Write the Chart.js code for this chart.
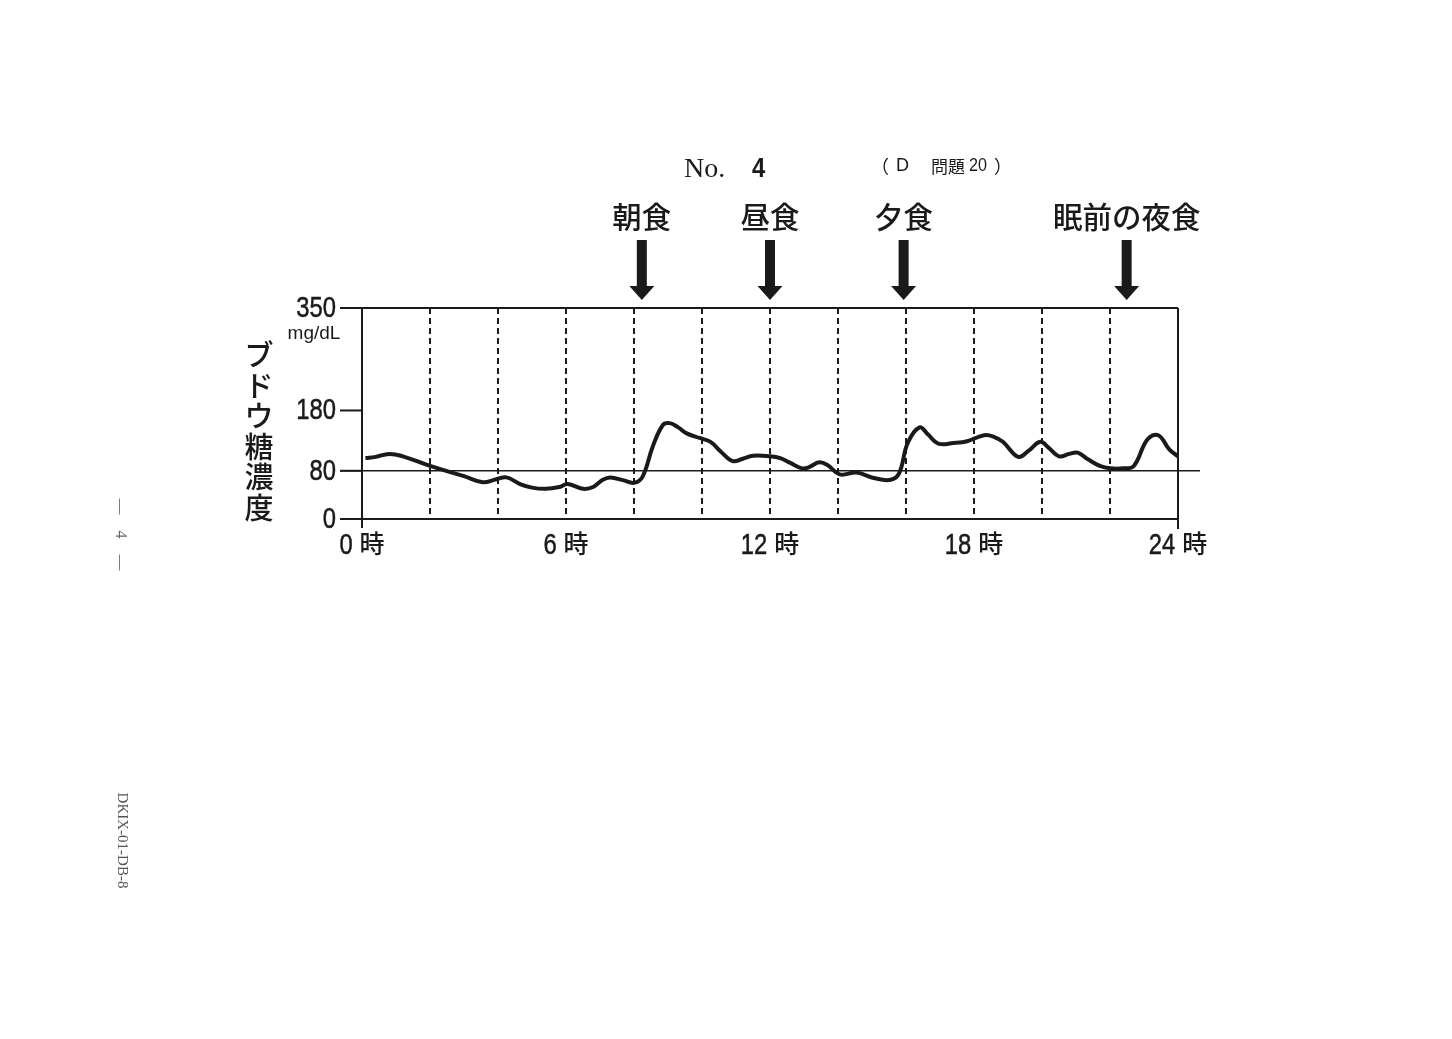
<!DOCTYPE html>
<html>
<head>
<meta charset="utf-8">
<script src="https://cdn.jsdelivr.net/npm/chart.js@4.4.1/dist/chart.umd.min.js"></script>
<style>
  html, body { margin: 0; padding: 0; background: #fff; }
  body { width: 1452px; height: 1039px; position: relative; overflow: hidden; }
  #c { position: absolute; left: 0; top: 0; }
  .abs { position: absolute; white-space: nowrap; color: #1a1a1a; }
</style>
</head>
<body>
<canvas id="c" width="1452" height="1039"></canvas>
<div class="abs" style="left:684px;top:152px;font-family:'Liberation Serif','DejaVu Serif',serif;font-size:28px;">No.</div>
<div class="abs" style="left:752px;top:152px;font-family:'Liberation Sans',sans-serif;font-size:28px;font-weight:bold;transform:scaleX(0.85);transform-origin:left;">4</div>
<div class="abs" style="left:871px;top:152px;font-family:'Noto Sans CJK JP',sans-serif;font-size:18px;">（</div>
<div class="abs" style="left:896px;top:155px;font-family:'Liberation Sans',sans-serif;font-size:18px;">D</div>
<div class="abs" style="left:931px;top:153px;font-family:'Noto Sans CJK JP',sans-serif;font-size:17px;">問題</div>
<div class="abs" style="left:969px;top:154px;font-family:'Liberation Sans',sans-serif;font-size:19px;transform:scaleX(0.85);transform-origin:left;">20</div>
<div class="abs" style="left:994px;top:152px;font-family:'Noto Sans CJK JP',sans-serif;font-size:18px;">）</div>
<div class="abs" style="left:100px;top:508px;width:40px;text-align:center;transform:rotate(90deg);font-family:'Liberation Serif',serif;font-size:16px;color:#666;">—　4　—</div>
<div class="abs" style="left:62px;top:832px;width:120px;text-align:center;transform:rotate(90deg);font-family:'Liberation Serif',serif;font-size:15px;color:#555;">DKIX-01-DB-8</div>
<script>
// ---- data ----
const hours = [0.1, 0.4, 0.8, 1.2, 2.0, 3.0, 3.55, 3.95, 4.25, 4.65, 5.0, 5.4, 5.8, 6.05, 6.5, 6.8, 7.05, 7.3, 7.7, 8.0, 8.25, 8.55, 8.85, 9.05, 9.3, 9.55, 9.95, 10.25, 10.55, 10.9, 11.2, 11.5, 12.0, 12.3, 12.6, 12.95, 13.15, 13.45, 13.7, 14.05, 14.55, 15.05, 15.55, 15.8, 16.05, 16.4, 16.65, 16.95, 17.4, 17.8, 18.3, 18.6, 18.85, 19.3, 19.6, 19.95, 20.2, 20.5, 20.8, 21.05, 21.35, 21.7, 22.0, 22.4, 22.7, 23.1, 23.42, 23.75, 24.0];
const glucose = [101, 103, 108, 104, 88, 71, 61, 66, 69, 58, 52, 50, 53, 58, 50, 53, 64, 69, 64, 60, 70, 120, 156, 159, 152, 142, 134, 128, 112, 96, 100, 105, 104, 101, 93, 84, 86, 94, 89, 74, 77, 68, 65, 76, 126, 152, 140, 125, 126, 129, 139, 136, 128, 103, 113, 128, 118, 104, 108, 110, 99, 88, 84, 84, 88, 132, 139, 115, 104];
const yTicks = [0, 80, 180, 350];
const xTickHours = [0, 6, 12, 18, 24];
const gridHours = [2, 4, 6, 8, 10, 12, 14, 16, 18, 20, 22];
const referenceLevel = 80;
const mealTimes = [8.23, 12.0, 15.93, 22.49];
const mealLabels = ['朝食', '昼食', '夕食', '眠前の夜食'];
const yTitle = 'ブドウ糖濃度';
const yUnit = 'mg/dL';
const xSuffix = '時';

const INK = '#1a1a1a';
const NUM = "'Liberation Sans', Arial, sans-serif";
const CJK = "'Noto Sans CJK JP', sans-serif";
const SQ = 0.82; // horizontal squeeze of the condensed numerals

function squeezed(ctx, text, x, y, align) {
  ctx.save();
  const w = ctx.measureText(text).width * SQ;
  let left = x;
  if (align === 'right') left = x - w;
  else if (align === 'center') left = x - w / 2;
  ctx.translate(left, y);
  ctx.scale(SQ, 1);
  ctx.textAlign = 'left';
  ctx.lineWidth = 0.5; ctx.strokeStyle = INK;
  ctx.fillText(text, 0, 0);
  ctx.strokeText(text, 0, 0);
  ctx.restore();
  return w;
}

const decor = {
  id: 'decor',
  beforeDatasetsDraw(chart) {
    const ctx = chart.ctx, xs = chart.scales.x, ys = chart.scales.y;
    const L = xs.getPixelForValue(0), R = xs.getPixelForValue(24);
    const T = ys.getPixelForValue(350), B = ys.getPixelForValue(0);
    ctx.save();
    // dashed verticals
    ctx.strokeStyle = INK; ctx.lineWidth = 2; ctx.setLineDash([6, 4]);
    gridHours.forEach(h => {
      const x = Math.round(xs.getPixelForValue(h));
      ctx.beginPath(); ctx.moveTo(x, T); ctx.lineTo(x, B); ctx.stroke();
    });
    ctx.setLineDash([]);
    // frame
    ctx.lineWidth = 2;
    ctx.beginPath();
    ctx.moveTo(L - 22, T); ctx.lineTo(R, T);
    ctx.moveTo(R, T); ctx.lineTo(R, B + 10);
    ctx.moveTo(L - 22, B); ctx.lineTo(R, B);
    ctx.moveTo(L, T); ctx.lineTo(L, B + 9);
    ctx.stroke();
    // y ticks
    yTicks.forEach(v => {
      const y = ys.getPixelForValue(v);
      ctx.beginPath(); ctx.moveTo(L - 22, y); ctx.lineTo(L, y); ctx.stroke();
    });
    // reference line at 80
    const y80 = ys.getPixelForValue(referenceLevel);
    ctx.lineWidth = 1.6;
    ctx.beginPath(); ctx.moveTo(L - 22, y80); ctx.lineTo(R + 22, y80); ctx.stroke();

    ctx.fillStyle = INK;
    // y tick labels
    ctx.font = '29px ' + NUM; ctx.textBaseline = 'middle';
    yTicks.forEach(v => squeezed(ctx, String(v), L - 26, ys.getPixelForValue(v) + 1, 'right'));
    // x tick labels
    xTickHours.forEach(h => {
      const x = xs.getPixelForValue(h);
      ctx.font = '29px ' + NUM;
      const numW = ctx.measureText(String(h)).width * SQ;
      ctx.font = '500 25px ' + CJK;
      const cjW = ctx.measureText(xSuffix).width;
      const gap = 7;
      const total = numW + gap + cjW;
      const left = x - total / 2;
      ctx.font = '29px ' + NUM; ctx.textBaseline = 'alphabetic';
      squeezed(ctx, String(h), left, B + 35, 'left');
      ctx.font = '500 25px ' + CJK;
      ctx.textAlign = 'left';
      ctx.fillText(xSuffix, left + numW + gap, B + 34);
    });
    // unit
    ctx.font = "19px " + NUM;
    ctx.textAlign = 'center'; ctx.textBaseline = 'middle';
    ctx.fillText(yUnit, L - 48, T + 26);
    // vertical y title
    ctx.font = '500 29px ' + CJK;
    Array.from(yTitle).forEach((ch, i) => ctx.fillText(ch, L - 103, T + 47 + i * 30.6));
    // meal arrows and labels
    mealTimes.forEach((t, i) => {
      const x = xs.getPixelForValue(t);
      ctx.beginPath();
      ctx.moveTo(x - 5, T - 68); ctx.lineTo(x + 5, T - 68); ctx.lineTo(x + 5, T - 22);
      ctx.lineTo(x + 12.5, T - 22); ctx.lineTo(x, T - 8); ctx.lineTo(x - 12.5, T - 22);
      ctx.lineTo(x - 5, T - 22); ctx.closePath(); ctx.fill();
      ctx.font = '500 29.5px ' + CJK;
      ctx.textAlign = 'center'; ctx.textBaseline = 'middle';
      ctx.fillText(mealLabels[i], x, T - 91);
    });
    ctx.restore();
  }
};

new Chart(document.getElementById('c'), {
  type: 'line',
  data: {
    datasets: [{
      data: hours.map((h, i) => ({ x: h, y: glucose[i] })),
      borderColor: INK, borderWidth: 4, pointRadius: 0, tension: 0.4, fill: false
    }]
  },
  options: {
    responsive: false, animation: false, devicePixelRatio: 1,
    layout: { padding: { left: 362, top: 308, right: 274, bottom: 520 } },
    plugins: { legend: { display: false }, tooltip: { enabled: false } },
    scales: {
      x: { type: 'linear', min: 0, max: 24, display: false },
      y: { min: 0, max: 350, display: false }
    }
  },
  plugins: [decor]
});
</script>
</body>
</html>
